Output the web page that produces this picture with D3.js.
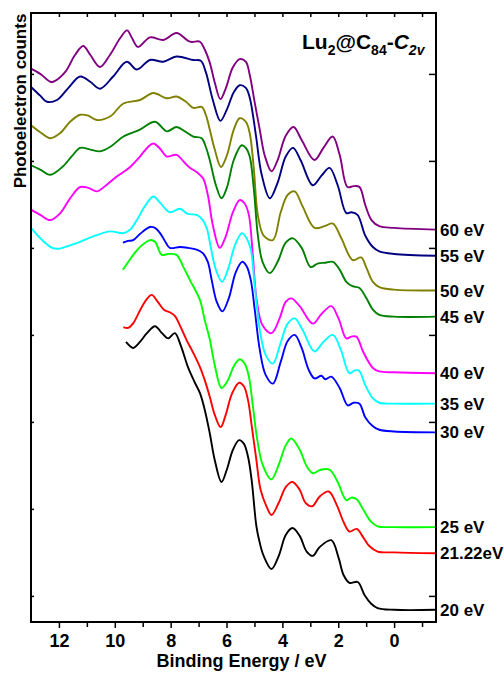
<!DOCTYPE html>
<html>
<head>
<meta charset="utf-8">
<script src="https://cdn.jsdelivr.net/npm/d3@7"></script>
<style>
  body { margin: 0; background: #fff; }
  svg text { font-family: Arial, "Liberation Sans", sans-serif; font-weight: bold; }
</style>
</head>
<body>
<div id="chart"></div>
<script>
// Lu2@C84-C2v – photoelectron spectra at different photon energies (stacked)

/* ---------- data: [binding energy (eV), counts (arb. units, offset)] ---------- */
const s60 = [[13.0,6.06],[12.67,6.00],[12.31,5.91],[12.2,5.91],[11.78,6.02],[11.42,6.22],[11.13,6.32],[10.88,6.22],[10.53,6.08],[10.17,6.22],[9.81,6.41],[9.56,6.50],[9.38,6.41],[9.17,6.31],[8.74,6.42],[8.26,6.39],[7.79,6.47],[7.31,6.37],[6.95,6.37],[6.78,6.28],[6.60,6.13],[6.42,5.90],[6.22,5.71],[6.02,5.84],[5.78,6.07],[5.53,6.17],[5.31,6.14],[5.17,5.99],[4.99,5.67],[4.81,5.36],[4.63,5.06],[4.39,4.88],[4.17,5.01],[3.88,5.29],[3.60,5.39],[3.31,5.24],[2.85,5.01],[2.53,5.15],[2.20,5.28],[1.95,5.07],[1.67,4.70],[1.45,4.71],[1.24,4.70],[1.03,4.49],[0.81,4.32],[0.53,4.25],[0.0,4.23],[-1.5,4.21]];
const s55 = [[13.0,5.85],[12.67,5.75],[12.43,5.68],[12.07,5.70],[11.66,5.84],[11.24,5.97],[10.88,5.91],[10.53,5.83],[10.06,5.97],[9.57,6.14],[9.21,6.05],[8.74,6.16],[8.26,6.14],[7.79,6.20],[7.19,6.16],[6.92,6.15],[6.74,6.02],[6.49,5.70],[6.22,5.46],[5.99,5.59],[5.74,5.79],[5.53,5.87],[5.31,5.84],[5.17,5.73],[4.95,5.30],[4.74,4.84],[4.45,4.57],[4.17,4.75],[3.88,5.05],[3.62,5.15],[3.35,5.01],[2.91,4.72],[2.60,4.83],[2.31,4.92],[2.02,4.72],[1.71,4.40],[1.53,4.41],[1.31,4.38],[1.03,4.14],[0.76,4.01],[0.53,3.96],[0.0,3.93],[-1.5,3.91]];
const s50 = [[13.0,5.41],[12.67,5.33],[12.31,5.26],[11.95,5.32],[11.60,5.45],[11.24,5.53],[10.95,5.52],[10.64,5.47],[10.17,5.51],[9.69,5.66],[9.10,5.70],[8.62,5.78],[8.14,5.72],[7.79,5.74],[7.45,5.68],[7.19,5.61],[6.89,5.62],[6.74,5.53],[6.60,5.36],[6.42,5.13],[6.20,4.93],[5.99,5.06],[5.74,5.36],[5.53,5.49],[5.31,5.45],[5.17,5.32],[5.02,4.90],[4.88,4.38],[4.67,4.14],[4.34,4.09],[4.06,4.41],[3.81,4.61],[3.56,4.65],[3.28,4.48],[2.85,4.23],[2.49,4.25],[2.19,4.28],[1.89,4.11],[1.48,3.86],[1.18,3.89],[0.99,3.77],[0.76,3.61],[0.53,3.55],[0.0,3.52],[-1.5,3.51]];
const s45 = [[13.0,4.95],[12.67,4.90],[12.31,4.84],[11.88,4.93],[11.52,5.06],[11.24,5.15],[10.88,5.13],[10.53,5.11],[10.17,5.16],[9.69,5.28],[9.10,5.36],[8.56,5.45],[8.14,5.34],[7.79,5.39],[7.49,5.34],[7.19,5.28],[6.89,5.26],[6.74,5.16],[6.60,5.01],[6.38,4.72],[6.18,4.57],[5.99,4.69],[5.74,5.01],[5.46,5.18],[5.31,5.15],[5.17,5.05],[5.02,4.67],[4.88,4.15],[4.71,3.84],[4.45,3.71],[4.17,3.84],[3.88,4.06],[3.62,4.11],[3.31,4.00],[2.99,3.78],[2.74,3.82],[2.46,3.83],[2.19,3.84],[1.95,3.75],[1.71,3.61],[1.49,3.56],[1.24,3.54],[0.99,3.42],[0.76,3.29],[0.53,3.23],[0.0,3.21],[-1.5,3.21]];
const s40 = [[13.0,4.44],[12.67,4.38],[12.31,4.32],[11.95,4.40],[11.60,4.57],[11.24,4.70],[10.95,4.69],[10.64,4.65],[10.31,4.72],[9.93,4.82],[9.45,4.93],[9.10,5.05],[8.81,5.16],[8.62,5.20],[8.38,5.14],[8.14,5.05],[7.79,5.07],[7.53,4.99],[7.31,4.92],[7.06,4.87],[6.84,4.80],[6.67,4.61],[6.49,4.26],[6.24,4.00],[6.03,4.13],[5.77,4.41],[5.53,4.55],[5.35,4.51],[5.20,4.38],[5.06,3.92],[4.92,3.40],[4.71,3.11],[4.39,3.02],[4.10,3.19],[3.88,3.38],[3.68,3.42],[3.38,3.33],[2.91,3.13],[2.60,3.24],[2.25,3.33],[1.99,3.19],[1.71,2.96],[1.53,2.98],[1.35,2.98],[1.10,2.80],[0.76,2.62],[0.53,2.58],[0.0,2.57],[-1.5,2.56]];
const s35 = [[13.0,4.23],[12.60,4.09],[12.24,4.00],[12.03,3.99],[11.60,4.03],[11.24,4.07],[10.70,4.14],[10.17,4.19],[9.69,4.17],[9.45,4.21],[9.21,4.32],[8.92,4.48],[8.62,4.59],[8.38,4.52],[8.03,4.41],[7.67,4.45],[7.38,4.39],[7.07,4.38],[6.85,4.32],[6.70,4.22],[6.56,4.00],[6.38,3.75],[6.16,3.61],[5.95,3.75],[5.70,4.03],[5.45,4.17],[5.28,4.11],[5.13,3.98],[4.99,3.57],[4.81,3.06],[4.60,2.77],[4.34,2.67],[4.06,2.91],[3.81,3.13],[3.56,3.19],[3.28,3.06],[2.85,2.81],[2.53,2.92],[2.19,3.00],[1.91,2.83],[1.60,2.56],[1.42,2.59],[1.26,2.59],[1.03,2.42],[0.76,2.27],[0.53,2.22],[0.0,2.21],[-1.5,2.21]];
const s30 = [[9.71,4.06],[9.53,4.08],[9.34,4.09],[9.10,4.16],[8.74,4.24],[8.56,4.23],[8.38,4.17],[8.17,4.06],[8.03,4.00],[7.67,4.01],[7.38,4.00],[7.07,3.98],[6.85,3.94],[6.67,3.84],[6.53,3.63],[6.35,3.38],[6.15,3.27],[5.92,3.42],[5.67,3.72],[5.44,3.84],[5.28,3.79],[5.13,3.63],[4.99,3.29],[4.81,2.83],[4.60,2.54],[4.34,2.44],[4.06,2.69],[3.81,2.93],[3.56,3.00],[3.31,2.85],[3.06,2.60],[2.85,2.50],[2.60,2.53],[2.46,2.49],[2.25,2.52],[1.95,2.39],[1.66,2.19],[1.45,2.22],[1.24,2.21],[1.03,2.05],[0.76,1.95],[0.53,1.91],[0.0,1.89],[-1.5,1.88]];
const s25 = [[9.71,3.75],[9.60,3.80],[9.34,3.92],[9.03,4.03],[8.74,4.09],[8.56,4.07],[8.32,3.92],[8.10,3.93],[7.79,3.92],[7.53,3.77],[7.31,3.63],[6.95,3.40],[6.78,3.17],[6.60,2.95],[6.42,2.65],[6.18,2.39],[5.95,2.48],[5.74,2.64],[5.53,2.72],[5.35,2.67],[5.20,2.52],[5.06,2.19],[4.92,1.84],[4.71,1.51],[4.39,1.34],[4.13,1.51],[3.88,1.73],[3.68,1.81],[3.38,1.68],[3.13,1.49],[2.91,1.41],[2.63,1.45],[2.31,1.45],[2.02,1.31],[1.71,1.10],[1.53,1.13],[1.34,1.11],[1.10,0.99],[0.82,0.85],[0.59,0.80],[0.0,0.79],[-1.5,0.79]];
const s2122 = [[9.69,3.09],[9.53,3.08],[9.35,3.13],[9.10,3.28],[8.88,3.40],[8.68,3.46],[8.46,3.38],[8.24,3.29],[8.03,3.26],[7.85,3.22],[7.67,3.11],[7.43,2.94],[7.20,2.80],[6.95,2.63],[6.78,2.48],[6.60,2.29],[6.42,2.08],[6.21,1.94],[6.03,2.08],[5.81,2.32],[5.55,2.45],[5.38,2.41],[5.23,2.25],[5.10,1.96],[4.93,1.56],[4.78,1.22],[4.57,1.03],[4.39,0.93],[4.13,1.07],[3.88,1.25],[3.64,1.31],[3.38,1.22],[3.17,1.07],[2.93,1.03],[2.67,1.14],[2.34,1.20],[2.06,1.05],[1.81,0.85],[1.60,0.74],[1.34,0.77],[1.10,0.67],[0.88,0.57],[0.59,0.51],[0.0,0.50],[-1.5,0.49]];
const s20 = [[9.60,2.92],[9.45,2.87],[9.34,2.85],[9.10,2.92],[8.85,3.02],[8.56,3.10],[8.31,3.02],[8.09,2.96],[7.85,3.02],[7.64,2.88],[7.37,2.62],[7.13,2.45],[6.95,2.33],[6.78,2.14],[6.60,1.87],[6.42,1.56],[6.18,1.31],[5.99,1.45],[5.77,1.68],[5.55,1.79],[5.38,1.75],[5.23,1.60],[5.10,1.33],[4.93,0.80],[4.81,0.61],[4.67,0.46],[4.39,0.31],[4.13,0.46],[3.88,0.70],[3.64,0.78],[3.38,0.69],[3.13,0.51],[2.91,0.46],[2.67,0.56],[2.25,0.64],[1.99,0.44],[1.81,0.24],[1.60,0.15],[1.30,0.16],[1.06,0.01],[0.82,-0.09],[0.59,-0.14],[0.0,-0.16],[-1.5,-0.16]];

const series  = [s60, s55, s50, s45, s40, s35, s30, s25, s2122, s20];
const labels  = ["60 eV", "55 eV", "50 eV", "45 eV", "40 eV", "35 eV", "30 eV", "25 eV", "21.22eV", "20 eV"];
const colors  = ["#800080", "#000080", "#808000", "#008000", "#ff00ff", "#00ffff", "#0000ff", "#00ff00", "#ff0000", "#000000"];
const xMajor  = [12, 10, 8, 6, 4, 2, 0];
const xMinor  = [13, 11, 9, 7, 5, 3, 1, -1];
const yTicks  = [0, 1, 2, 3, 4, 5, 6];

/* ---------- layout ---------- */
const W = 504, H = 673;
const L = 31, R = 436, T = 13, B = 622;

const x = d3.scaleLinear().domain([13, -1.5]).range([L, R]);
const y = d3.scaleLinear().domain([-0.3, 6.7]).range([B, T]);

const svg = d3.select("#chart").append("svg")
  .attr("width", W).attr("height", H);

// Kurven
const line = d3.line()
  .x(d => x(d[0]))
  .y(d => y(d[1]))
  .curve(d3.curveCatmullRom.alpha(0.5));

svg.append("g").selectAll("path")
  .data(series).join("path")
  .attr("d", line)
  .attr("fill", "none")
  .attr("stroke", (d, i) => colors[i])
  .attr("stroke-width", 1.9)
  .attr("stroke-linejoin", "round");

// Achsen (Rahmen)
const tickStyle = g => g.selectAll(".tick line").attr("stroke", "#000").attr("stroke-width", 1.5);

// unten: Haupt- und Nebenticks nach außen
svg.append("g")
  .attr("transform", `translate(0,${B})`)
  .call(d3.axisBottom(x).tickValues(xMajor).tickSize(6).tickPadding(6).tickFormat(d3.format("d")))
  .call(g => g.select(".domain").remove())
  .call(tickStyle)
  .call(g => g.selectAll("text").attr("font-size", 18).attr("fill", "#000"));

svg.append("g")
  .attr("transform", `translate(0,${B})`)
  .call(d3.axisBottom(x).tickValues(xMinor.filter(v => v > -1.5 && v < 13)).tickSize(5).tickFormat(""))
  .call(g => g.select(".domain").remove())
  .call(tickStyle);

// oben: Ticks nach innen
svg.append("g")
  .attr("transform", `translate(0,${T})`)
  .call(d3.axisBottom(x).tickValues(xMajor.concat(xMinor.filter(v => v > -1.5 && v < 13))).tickSize(4).tickFormat(""))
  .call(g => g.select(".domain").remove())
  .call(tickStyle);

// links / rechts: Ticks nach innen
svg.append("g")
  .attr("transform", `translate(${L},0)`)
  .call(d3.axisRight(y).tickValues(yTicks).tickSize(3).tickFormat(""))
  .call(g => g.select(".domain").remove())
  .call(tickStyle);

svg.append("g")
  .attr("transform", `translate(${R},0)`)
  .call(d3.axisLeft(y).tickValues(yTicks).tickSize(7).tickFormat(""))
  .call(g => g.select(".domain").remove())
  .call(tickStyle);

svg.append("rect")
  .attr("x", L).attr("y", T)
  .attr("width", R - L).attr("height", B - T)
  .attr("fill", "none").attr("stroke", "#000").attr("stroke-width", 2);

// Beschriftung der Kurven
svg.append("g").selectAll("text")
  .data(series).join("text")
  .attr("x", R + 4)
  .attr("y", d => y(d[d.length - 1][1]))
  .attr("dy", "0.36em")
  .attr("font-size", 17)
  .text((d, i) => labels[i]);

// Achsentitel
svg.append("text")
  .attr("x", (L + R) / 2 + 8).attr("y", 667)
  .attr("text-anchor", "middle")
  .attr("font-size", 18)
  .text("Binding Energy / eV");

svg.append("text")
  .attr("transform", `translate(26,${101}) rotate(-90)`)
  .attr("text-anchor", "middle")
  .attr("font-size", 17)
  .text("Photoelectron counts");

// Titel Lu2@C84-C2v
const title = svg.append("text")
  .attr("x", 302).attr("y", 49)
  .attr("font-size", 21);
title.append("tspan").text("Lu");
title.append("tspan").attr("font-size", 14).attr("dy", 6).text("2");
title.append("tspan").attr("dy", -6).text("@C");
title.append("tspan").attr("font-size", 14).attr("dy", 6).text("84");
title.append("tspan").attr("dy", -6).text("-");
title.append("tspan").attr("font-style", "italic").text("C");
title.append("tspan").attr("font-style", "italic").attr("font-size", 14).attr("dy", 6).text("2v");
</script>
</body>
</html>
